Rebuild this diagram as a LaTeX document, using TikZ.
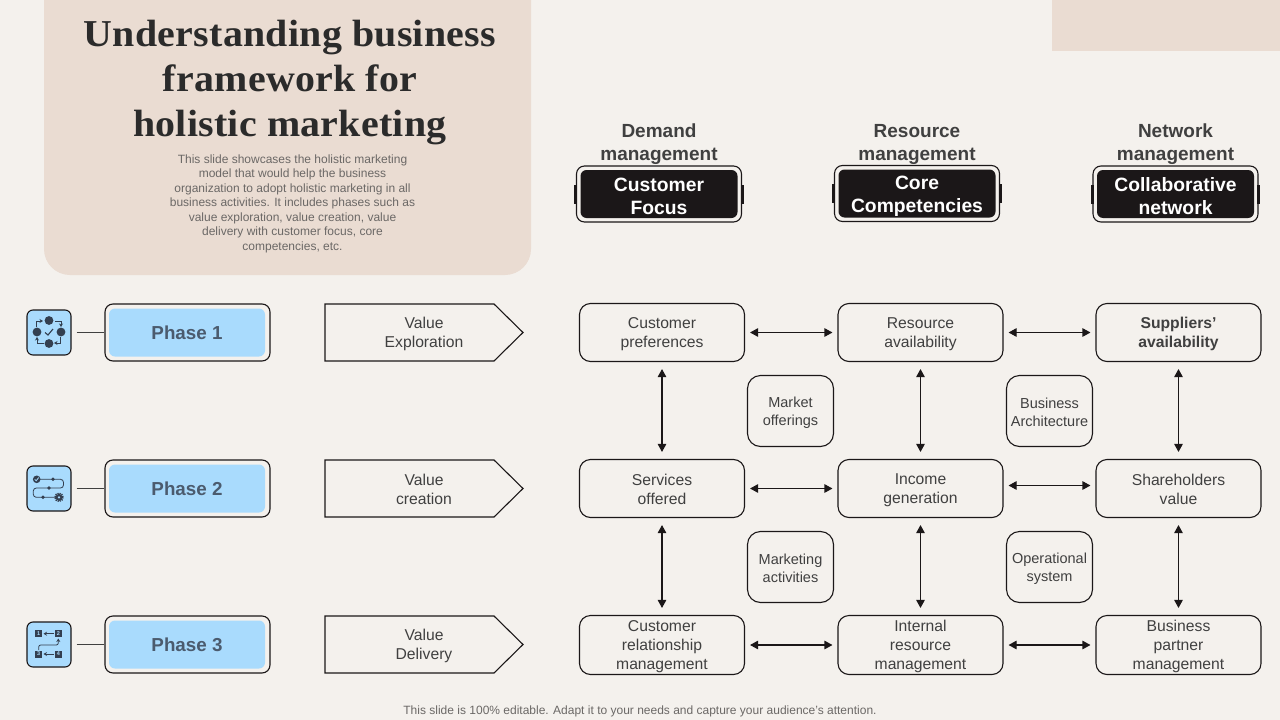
\documentclass[tikz,border=0pt]{standalone}
\usepackage{fontspec}
\setmainfont{Liberation Sans}
\newfontfamily\titlefont[FakeStretch=1.05,LetterSpace=0.7]{Liberation Serif}
\usetikzlibrary{arrows.meta}
\definecolor{bgc}{HTML}{F4F1ED}
\definecolor{panelc}{HTML}{EADCD2}
\definecolor{inkc}{HTML}{1B1718}
\definecolor{txtc}{HTML}{404040}
\definecolor{titlec}{HTML}{2B2B2B}
\definecolor{graytxt}{HTML}{6B6866}
\definecolor{bluec}{HTML}{A9DBFD}
\definecolor{slatec}{HTML}{4B5B6E}
\definecolor{iconc}{HTML}{333F50}
\newcommand\st{\rule[-1pt]{0pt}{15pt}}
\newcommand\sth{\rule[-1pt]{0pt}{17pt}}
\newcommand\sti{\rule{0pt}{19pt}}
\tikzset{
  cell/.style={draw=inkc,line width=1.1pt,rounded corners=11pt,minimum width=165pt,minimum height=58pt,align=center,text=txtc,inner sep=0pt,font=\fontsize{15.7}{19}\selectfont},
  smallcell/.style={cell,minimum width=86pt,minimum height=71pt,rounded corners=13pt,font=\fontsize{14.5}{18}\selectfont},
  phaseouter/.style={draw=inkc,line width=1.1pt,rounded corners=8pt,minimum width=165pt,minimum height=57pt,inner sep=0pt},
  phaseinner/.style={fill=bluec,rounded corners=6pt,minimum width=156pt,minimum height=48pt,inner sep=0pt,text=slatec,font=\bfseries\fontsize{18.8}{22}\selectfont},
  iconbox/.style={draw=inkc,fill=bluec,line width=1.1pt,rounded corners=6pt,minimum width=44pt,minimum height=45pt,inner sep=0pt},
  link/.style={draw=txtc,line width=1.1pt},
  both/.style={draw=inkc,line width=1.1pt,{Triangle[length=8pt,width=8.5pt]}-{Triangle[length=8pt,width=8.5pt]}},
  hlink/.style={both,shorten <=5pt,shorten >=5pt},
  vlink/.style={both,shorten <=7pt,shorten >=7pt},
  headtext/.style={align=center,text=txtc,inner sep=0pt,font=\bfseries\fontsize{19}{23}\selectfont},
  headouter/.style={draw=inkc,line width=1.1pt,rounded corners=8pt,minimum width=165pt,minimum height=56pt,inner sep=0pt},
  headinner/.style={fill=inkc,rounded corners=6pt,minimum width=157pt,minimum height=48pt,inner sep=0pt,align=center,text=white,font=\bfseries\fontsize{19.3}{23}\selectfont},
  sidebar/.style={fill=inkc,minimum width=3pt,minimum height=19pt,inner sep=0pt},
  valuetext/.style={align=center,text=txtc,inner sep=0pt,font=\fontsize{15.7}{19}\selectfont},
  valuearrow/.style={draw=inkc,line width=1.1pt},
  ic/.style={fill=iconc,draw=none},
  icl/.style={draw=iconc,line width=0.8pt,-{Stealth[length=3.5pt,width=4pt]}},
  icp/.style={draw=iconc,line width=0.8pt}
}
\begin{document}
\begin{tikzpicture}[x=1pt,y=-1pt]
\useasboundingbox (0,0) rectangle (1280,720);
\fill[bgc] (0,0) rectangle (1280,720);
% panels
\fill[panelc] (1052,0) rectangle (1280,51);
\fill[panelc,rounded corners=26pt] (44,-30) rectangle (531,275);
\node[align=center,text=titlec,inner sep=0pt,font=\titlefont\bfseries\fontsize{38}{45}\selectfont] (title) at (290,82.5) {Understanding business\\framework for\\holistic marketing};
\node[align=center,text=graytxt,inner sep=0pt,font=\fontsize{12}{14.5}\selectfont] (desc) at (292.5,203.5) {This slide showcases the holistic marketing\\model that would help the business\\organization to adopt holistic marketing in all\\business activities. It includes phases such as\\value exploration, value creation, value\\delivery with customer focus, core\\competencies, etc.};
% column headers
\node[headtext] (h1) at (659,143) {\sth Demand\\\sth management};
\node[headtext] (h2) at (917,143) {\sth Resource\\\sth management};
\node[headtext] (h3) at (1175.5,143) {\sth Network\\\sth management};
\foreach \n/\x/\y/\t in {a/659/194/{\sti Customer\\\sti Focus},b/917/193.5/{\sti Core\\\sti Competencies},c/1175.5/194/{\sti Collaborative\\\sti network}}{
  \node[headouter] (\n o) at (\x,\y) {};
  \node[sidebar] (\n l) at (\n o.west) {};
  \node[sidebar] (\n r) at (\n o.east) {};
  \node[headinner] (\n i) at (\x,\y) {\t};
}
% phases
\foreach \n/\y/\t in {1/332.5/Phase 1,2/488.5/Phase 2,3/644.5/Phase 3}{
  \node[iconbox] (icon\n) at (49,\y) {};
  \node[phaseouter] (po\n) at (187.5,\y) {};
  \node[phaseinner] (pi\n) at (187,\y) {\t};
  \draw[link,shorten <=5pt] (icon\n.east) -- (po\n.west);
}
% icon 1
\begin{scope}[shift={(49,332)}]
  \foreach \p in {(0,-11.5),(0,11.5),(-12,0),(12,0)} \fill[ic] \p circle (4.4);
  \draw[line width=1.1pt,iconc] (-4,0.5) -- (-1,3) -- (4,-3);
  \draw[icl] (-13,-5) -- (-13,-11) -- (-6,-11);
  \draw[icl] (6,-11) -- (12,-11) -- (12,-5);
  \draw[icl] (11,5) -- (11,11) -- (5,11);
  \draw[icl] (-5,11) -- (-12,11) -- (-12,5);
\end{scope}
% icon 2
\begin{scope}[shift={(49,489)}]
  \draw[icp,rounded corners=3pt] (-12,-9.7) -- (14.5,-9.7) -- (14.5,-1) -- (-15.7,-1) -- (-15.7,8.3) -- (10,8.3);
  \fill[ic] (-12.3,-9.7) circle (3.8);
  \fill[ic] (4,-9.7) circle (1.9);
  \fill[ic] (0,-1) circle (1.9);
  \fill[ic] (-6,8.3) circle (1.9);
  \draw[iconc,line width=1.6pt,dash pattern=on 1.2pt off 0.9pt] (10,8.3) circle (4);
  \fill[ic] (10,8.3) circle (3.4);
  \fill[bluec] (10,8.3) circle (1.2);
  \draw[bluec,line width=0.8pt] (-14.3,-9.7) -- (-12.8,-8.2) -- (-10.3,-11.5);
\end{scope}
% icon 3
\begin{scope}[shift={(49,645)}]
  \foreach \p/\q in {(-10.3,-11.3)/1,(9.3,-11.3)/2,(-10.3,9)/3,(9.3,9)/4}{
    \node[fill=iconc,text=bluec,minimum size=7pt,inner sep=0pt,font=\bfseries\fontsize{5.5}{6}\selectfont] at \p {\q};
  }
  \draw[icl] (5,-11.3) -- (-5.5,-11.3);
  \draw[icl] (5,9) -- (-5.5,9);
  \draw[icl,rounded corners=2pt] (-10.3,5) -- (-10.3,0) -- (9.3,0) -- (9.3,-6.5);
\end{scope}
% value arrows
\foreach \n/\y/\t in {1/332.5/{\st Value\\\st Exploration},2/488.5/{\st Value\\\st creation},3/644.5/{\st Value\\\st Delivery}}{
  \draw[valuearrow] (325,\y-28.5) -- (494,\y-28.5) -- (523,\y) -- (494,\y+28.5) -- (325,\y+28.5) -- cycle;
  \node[valuetext] (v\n) at (424,\y) {\t};
}
% grid cells
\node[cell] (c11) at (662,332.5) {\st Customer\\\st preferences};
\node[cell] (c12) at (920.5,332.5) {\st Resource\\\st availability};
\node[cell,font=\bfseries\fontsize{15.7}{19}\selectfont] (c13) at (1178.5,332.5) {\st Suppliers’\\\st availability};
\node[cell] (c21) at (662,488.5) {\st Services\\\st offered};
\node[cell] (c22) at (920.5,488.5) {\st Income\\\st generation};
\node[cell] (c23) at (1178.5,488.5) {\st Shareholders\\\st value};
\node[cell,minimum height=59pt] (c31) at (662,645) {\st Customer\\\st relationship\\\st management};
\node[cell,minimum height=59pt] (c32) at (920.5,645) {\st Internal\\\st resource\\\st management};
\node[cell,minimum height=59pt] (c33) at (1178.5,645) {\st Business\\\st partner\\\st management};
% small cells
\node[smallcell] (s1) at (790.5,411) {\st Market\\\st offerings};
\node[smallcell] (s2) at (1049.5,411) {\st Business\\\st Architecture};
\node[smallcell] (s3) at (790.5,567) {\st Marketing\\\st activities};
\node[smallcell] (s4) at (1049.5,567) {\st Operational\\\st system};
% horizontal arrows
\draw[hlink] (c11) -- (c12);
\draw[hlink] (c12) -- (c13);
\draw[hlink] (c21) -- (c22);
\draw[hlink] ([yshift=3pt]c22.east) -- ([yshift=3pt]c23.west);
\draw[hlink] (c31) -- (c32);
\draw[hlink] (c32) -- (c33);
% vertical arrows
\draw[vlink] (c11) -- (c21);
\draw[vlink] (c12) -- (c22);
\draw[vlink] (c13) -- (c23);
\draw[vlink] (c21) -- (c31);
\draw[vlink] (c22) -- (c32);
\draw[vlink] (c23) -- (c33);
% footer
\node[text=graytxt,inner sep=0pt,font=\fontsize{12}{14}\selectfont] (foot) at (640,711) {This slide is 100\% editable. Adapt it to your needs and capture your audience’s attention.};
\end{tikzpicture}
\end{document}
